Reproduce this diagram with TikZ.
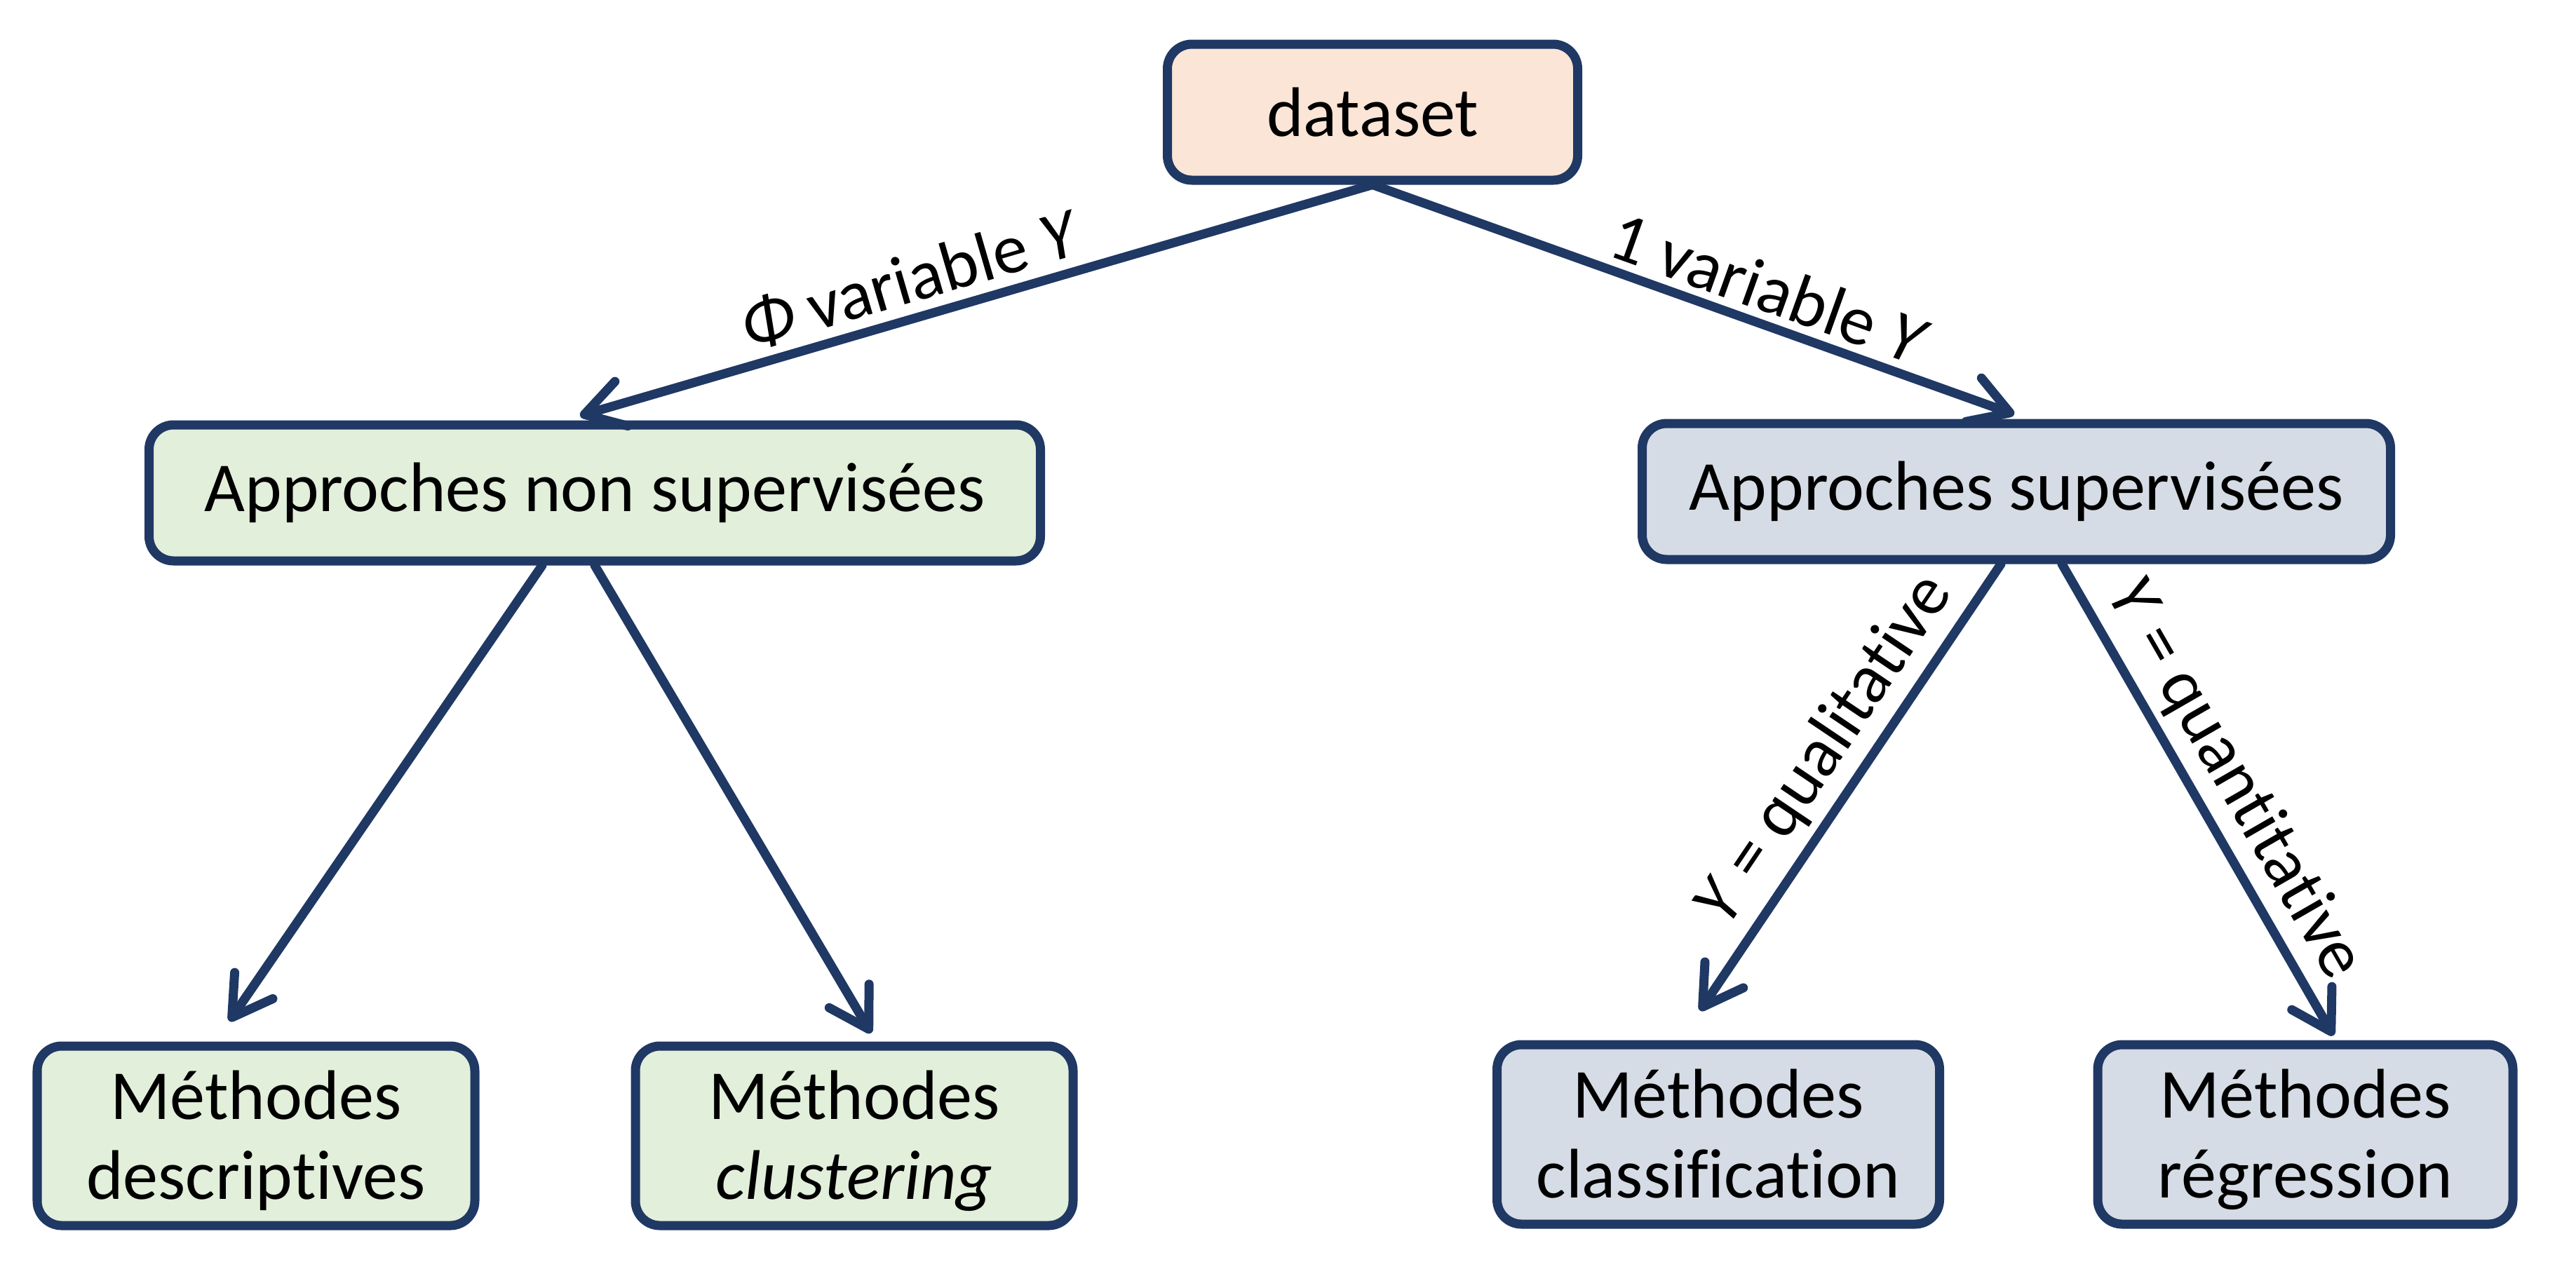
\documentclass[tikz,border=0pt]{standalone}
\usepackage{fontspec}
\setmainfont{Carlito}[Ligatures=CommonOff]
\usetikzlibrary{arrows.meta,positioning}
\definecolor{navy}{RGB}{31,56,100}
\definecolor{peach}{RGB}{251,229,214}
\definecolor{palegreen}{RGB}{226,239,218}
\definecolor{palegrey}{RGB}{214,220,229}
\begin{document}
\begin{tikzpicture}[
  box/.style={draw=navy, line width=0.13cm, rounded corners=0.35cm, align=center,
    font=\fontsize{28.5}{32.5}\selectfont, inner sep=0pt},
  twoline/.style={box, minimum height=2.56cm, text height=1.87cm, text depth=0.06cm},
  link/.style={draw=navy, line width=0.13cm, line cap=round,
    -{Straight Barb[length=0.55cm,width=0.66cm,round]}},
  lbl/.style={font=\fontsize{28.5}{32.5}\selectfont, sloped, above, inner sep=3pt}
]
\useasboundingbox (0,0) rectangle (36.73,-18.09);

% top
\node[box, fill=peach, minimum width=5.85cm, minimum height=1.94cm] (dataset) at (19.57,-1.60) {dataset};

% two families of approaches
\node[box, fill=palegreen, minimum width=12.71cm, minimum height=1.94cm] (nonsup) at (8.48,-7.03) {Approches non supervisées};
\node[box, fill=palegrey, minimum width=10.67cm, minimum height=1.94cm] (sup) at (28.75,-7.01) {Approches supervisées};

% methods
\node[twoline, fill=palegreen, minimum width=6.24cm] (desc) at (3.65,-16.20) {Méthodes\\descriptives};
\node[twoline, fill=palegreen, minimum width=6.24cm] (clust) at (12.18,-16.20) {Méthodes\\\textit{clustering}};
\node[twoline, fill=palegrey, minimum width=6.31cm] (classif) at (24.50,-16.18) {Méthodes\\classification};
\node[twoline, fill=palegrey, minimum width=5.92cm] (regr) at (32.87,-16.18) {Méthodes\\régression};

% arrows
\draw[link] (dataset.south) -- ([xshift=-0.21cm,yshift=0.065cm]nonsup.north)
  node[lbl, pos=0.57] {\textit{Φ} variable \textit{Y}};
\draw[link] (dataset.south) -- ([xshift=-0.03cm,yshift=0.065cm]sup.north)
  node[lbl, pos=0.6] {1 variable \textit{Y}};
\draw[link] ([xshift=-0.75cm]nonsup.south) -- ([xshift=-0.38cm,yshift=0.29cm]desc.north);
\draw[link] (nonsup.south) -- ([xshift=0.24cm,yshift=0.12cm]clust.north);
\draw[link] ([xshift=-0.22cm]sup.south) -- ([xshift=-0.26cm,yshift=0.42cm]classif.north)
  node[lbl, pos=0.47] {\textit{Y} = qualitative};
\draw[link] ([xshift=0.65cm]sup.south) -- ([xshift=0.40cm,yshift=0.065cm]regr.north)
  node[lbl, pos=0.5] {\textit{Y} = quantitative};
\end{tikzpicture}
\end{document}
